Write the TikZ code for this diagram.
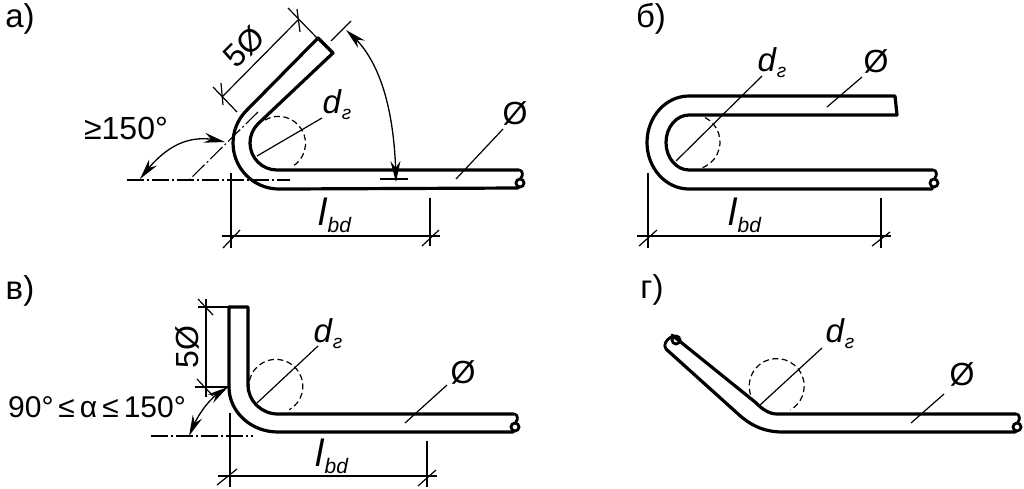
\documentclass[tikz,border=0pt]{standalone}
\usepackage{fontspec}
\setmainfont{Liberation Sans}
\usetikzlibrary{arrows.meta,bending}
\newcommand\drlab{{\fontsize{33}{33}\selectfont\textit{d}\raisebox{-6pt}{\fontsize{19}{19}\selectfont\textit{г}}}}
\newcommand\lbdlab{{\fontsize{38}{38}\selectfont\textit{l}\raisebox{-7pt}{\fontsize{21}{21}\selectfont\textit{bd}}}}
\tikzset{
  bar/.style={line width=3.2pt,line join=round,line cap=round},
  thin line/.style={line width=1.2pt},
  circ/.style={line width=1.2pt,dash pattern=on 6pt off 3.5pt},
  axis/.style={line width=1.1pt,dash pattern=on 17pt off 3pt on 2pt off 3pt},
  angle/.style={line width=1.3pt,{Stealth[length=21pt,width=10pt,flex]}-{Stealth[length=21pt,width=10pt,flex]}},
  lab/.style={inner sep=0pt,font=\fontsize{33}{33}\selectfont},
  dim/.style={inner sep=0pt,font=\fontsize{32}{32}\selectfont},
  brk/.pic={
    \draw[line width=2.8pt,line cap=round] (0,-13) .. controls (3,-11) and (3,-8) .. (1,-5);
    \draw[line width=2.8pt] (0,0) circle [radius=4];
    \draw[line width=2.8pt,line cap=round] (-1,4) -- (-2,5);
  }
}
\begin{document}
\begin{tikzpicture}[x=1pt,y=-1pt]
\useasboundingbox[fill=white] (0,0) rectangle (1024,488);
% ---- panel a
\node[lab] (la) at (20,19) {а)};
\draw[bar] (519,170) -- (277,170) arc [start angle=90,end angle=225,radius=27] -- (333,53) -- (318,38) -- (246.5,110.5) arc [start angle=225,end angle=90,radius=46] -- (518,188);
\pic at (520,183) {brk};
\draw[circ] (265,120) arc [start angle=240,end angle=420,radius=27];
\draw[thin line] (257,156) -- (322,118);
\node[inner sep=0pt] (dra) at (337,105) {\drlab};
\node[dim] (oa) at (515,113) {Ø};
\draw[thin line] (456,179) -- (503,129);
% 5O
\draw[thin line] (222,97) -- (298,20);
\draw[thin line] (288,8) -- (317,38) (213,87) -- (237,112);
\draw[thin line] (300,32) -- (297,9) (223,105) -- (221,83);
\node[dim,rotate=45] (fa) at (244,47) {5Ø};
% angle top right
\draw[thin line] (331,41) -- (351,21);
\draw[angle] (346,30) .. controls (378,55) and (395,105) .. (396,182);
\draw[thin line] (380,179) -- (408,179);
% angle left
\node[dim] (ga) at (126,128) {≥150°};
\draw[axis] (127,180) -- (290,180);
\draw[axis] (258,112) -- (187,182);
\draw[angle] (225,142) .. controls (190,132) and (165,145) .. (140,179);
% lbd
\draw[thin line] (231,173) -- (231,248) (430,198) -- (430,246);
\draw[thin line] (222,236) -- (440,236);
\draw[thin line] (223,248) -- (240,230) (422,246) -- (439,230);
\node[inner sep=0pt] (lba) at (335,215) {\lbdlab};
% ---- panel b
\node[lab] (lb) at (651,19) {б)};
\draw[bar] (897,115) -- (689,115) arc [start angle=270,end angle=90,x radius=23,y radius=27.5] -- (933,170);
\draw[bar] (897,115) -- (895,96) -- (689,96) arc [start angle=270,end angle=90,x radius=42,y radius=46.5] -- (932,189);
\pic at (934,183) {brk};
\draw[circ] (705,117.5) arc [start angle=-63,end angle=75,radius=27.5];
\draw[thin line] (676,161) -- (762,76);
\node[inner sep=0pt] (drb) at (772,63) {\drlab};
\node[dim] (ob) at (876,61) {Ø};
\draw[thin line] (827,107) -- (862,77);
\draw[thin line] (648,173) -- (648,248) (881,198) -- (881,248);
\draw[thin line] (637,236) -- (891,236);
\draw[thin line] (639,246) -- (657,230) (872,246) -- (890,232);
\node[inner sep=0pt] (lbb) at (745,215) {\lbdlab};
% ---- panel v
\node[lab] (lv) at (20,291) {в)};
\draw[bar] (229,307) -- (248,307) -- (248,385) arc [start angle=180,end angle=90,x radius=30,y radius=29] -- (514,414);
\draw[bar] (229,307) -- (229,387) arc [start angle=180,end angle=90,x radius=49,y radius=45] -- (513,432);
\pic at (515,427) {brk};
\draw[circ] (252,399) arc [start angle=152,end angle=420,radius=27];
\draw[thin line] (257,403) -- (318,346);
\node[inner sep=0pt] (drv) at (328,334) {\drlab};
\node[dim] (ov) at (463,372) {Ø};
\draw[thin line] (405,423) -- (447,385);
\draw[thin line] (206,299) -- (206,397);
\draw[thin line] (198,307) -- (229,307) (195,387) -- (229,387);
\draw[thin line] (198,299) -- (213,315) (197,379) -- (213,396);
\node[dim,rotate=90] (fv) at (187,347) {5Ø};
\draw[angle] (228,387) .. controls (212,395) and (198,412) .. (189,436);
\draw[axis] (151,436) -- (253,436);
\node[dim,font=\fontsize{30}{30}\selectfont] (gv) at (97,407) {90°\,≤\,α\,≤\,150°};
\draw[thin line] (230,413) -- (230,487) (427,441) -- (427,487);
\draw[thin line] (218,476) -- (437,476);
\draw[thin line] (217,485) -- (237,469) (418,486) -- (436,470);
\node[inner sep=0pt] (lbv) at (332,456) {\lbdlab};
% ---- panel g
\node[lab] (lg) at (652,290) {г)};
\draw[bar] (672,335) -- (755,402) .. controls (762,409) and (769,414) .. (777,414) -- (1016,414);
\draw[bar] (666,349) -- (737,413) .. controls (752,427) and (766,432) .. (783,432) -- (1015,432);
\draw[line width=2.8pt,line cap=round] (671,337) .. controls (666,340) and (663,345) .. (666,349);
\draw[line width=2.8pt] (676,340) circle [radius=4];
\pic at (1017,427) {brk};
\draw[circ] (755,403) arc [start angle=142,end angle=420,radius=27.5];
\draw[thin line] (760,405) -- (822,348);
\node[inner sep=0pt] (drg) at (840,334) {\drlab};
\node[dim] (og) at (962,374) {Ø};
\draw[thin line] (911,423) -- (944,394);
\end{tikzpicture}
\end{document}
